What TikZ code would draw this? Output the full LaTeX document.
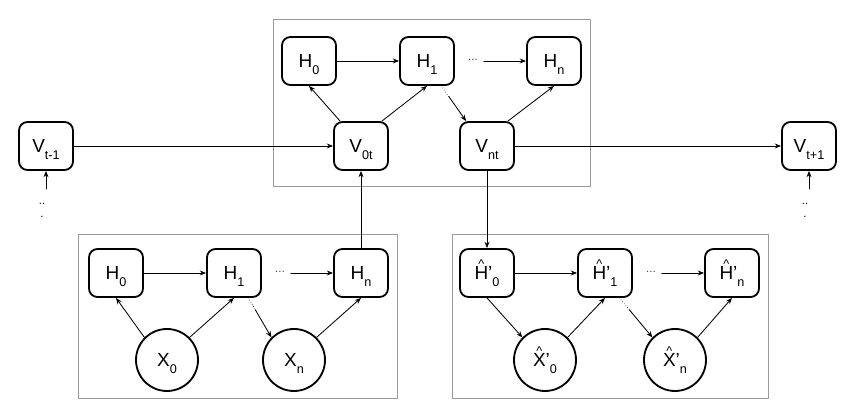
\documentclass[tikz,border=0pt]{standalone}
\usepackage{fontspec}
\setmainfont{Liberation Sans}
\usetikzlibrary{arrows.meta,calc}
\newcommand{\sbs}[1]{\smash{\raisebox{-5pt}{\fontsize{9}{9}\selectfont #1}}}
\newcommand{\hatc}[1]{\ooalign{#1\cr\hidewidth\smash{\raisebox{8pt}{\fontsize{9}{9}\selectfont\textasciicircum}}\hidewidth\cr}}
\tikzset{
  every picture/.style={font=\fontsize{13.5}{15}\selectfont, line join=round, line cap=round, >={Stealth[length=4.5pt,width=3.5pt]}},
  blk/.style={draw, line width=1.3pt, rounded corners=6pt, minimum width=1.35cm, minimum height=1.2cm, inner sep=0pt},
  obs/.style={draw, circle, line width=1.3pt, minimum size=1.55cm, inner sep=0pt},
  frm/.style={draw=gray!80, line width=0.7pt},
  lnk/.style={->, line width=0.6pt},
  skip/.style={line width=0.6pt, dash pattern=on 0pt off 1.8pt},
  dts/.style={font=\fontsize{7}{7}\selectfont, inner xsep=4pt, inner ysep=1pt},
  vdts/.style={font=\fontsize{8}{9}\selectfont, align=center, inner sep=0pt},
}

\begin{document}
\begin{tikzpicture}
\useasboundingbox (0,0) rectangle (21.375,10.475);
\draw[frm] (6.825,10.0) rectangle (14.75,5.825);
\draw[frm] (1.95,4.625) rectangle (9.925,0.525);
\draw[frm] (11.3,4.625) rectangle (19.2,0.525);

\node[blk] (th0) at (7.725,8.95) {H\sbs{0}};
\node[blk] (th1) at (10.675,8.95) {H\sbs{1}};
\node[blk] (thn) at (13.85,8.95) {H\sbs{n}};
\node[dts] (td) at ($(th1.east)+(0.45,0)$) {···};
\node[blk] (v0t) at (9.025,6.825) {V\sbs{0t}};
\node[blk] (vnt) at (12.175,6.825) {V\sbs{nt}};
\node[blk] (vtm) at (1.15,6.825) {V\sbs{t-1}};
\node[blk] (vtp) at (20.225,6.825) {V\sbs{t+1}};

\node[blk] (bh0) at (2.9,3.65) {H\sbs{0}};
\node[blk] (bh1) at (5.85,3.65) {H\sbs{1}};
\node[blk] (bhn) at (9.025,3.65) {H\sbs{n}};
\node[dts] (bd) at ($(bh1.east)+(0.45,0)$) {···};
\node[obs] (bx0) at (4.175,1.475) {X\sbs{0}};
\node[obs] (bxn) at (7.35,1.475) {X\sbs{n}};

\node[blk] (rh0) at (12.175,3.65) {\hatc{H}'\sbs{0}};
\node[blk] (rh1) at (15.125,3.65) {\hatc{H}'\sbs{1}};
\node[blk] (rhn) at (18.3,3.65) {\hatc{H}'\sbs{n}};
\node[dts] (rd) at ($(rh1.east)+(0.45,0)$) {···};
\node[obs] (rx0) at (13.625,1.475) {\hatc{X}'\sbs{0}};
\node[obs] (rxn) at (16.875,1.475) {\hatc{X}'\sbs{n}};

\node[vdts] (vtmd) at (1.05,5.22) {..\\.};
\node[vdts] (vtpd) at (20.125,5.22) {..\\.};
\coordinate (vtma) at (1.15,5.75);
\coordinate (vtpa) at (20.225,5.75);

\draw[lnk] (th0) -- (th1);
\draw[lnk] (td) -- (thn);
\draw[lnk] (v0t.130) -- (th0.south);
\draw[lnk] (v0t.50) -- (th1.south);
\draw[lnk] (vnt.50) -- (thn.south);
\coordinate (tm) at ($(th1.-60)!0.3!(vnt.130)$);
\draw[skip] (th1.-60) -- (tm);
\draw[lnk] (tm) -- (vnt.130);
\draw[lnk] (vtm) -- (v0t);
\draw[lnk] (vnt) -- (vtp);
\draw[lnk] (vtma) -- (vtm);
\draw[lnk] (vtpa) -- (vtp);
\draw[lnk] (bhn) -- (v0t);
\draw[lnk] (vnt) -- (rh0);

\draw[lnk] (bh0) -- (bh1);
\draw[lnk] (bd) -- (bhn);
\draw[lnk] (bx0.135) -- (bh0.south);
\draw[lnk] (bx0.45) -- (bh1.south);
\draw[lnk] (bxn.45) -- (bhn.south);
\coordinate (bm) at ($(bh1.-60)!0.3!(bxn.135)$);
\draw[skip] (bh1.-60) -- (bm);
\draw[lnk] (bm) -- (bxn.135);

\draw[lnk] (rh0) -- (rh1);
\draw[lnk] (rd) -- (rhn);
\draw[lnk] (rh0.south) -- (rx0.135);
\draw[lnk] (rx0.45) -- (rh1.south);
\draw[lnk] (rxn.45) -- (rhn.south);
\coordinate (rm) at ($(rh1.-60)!0.3!(rxn.135)$);
\draw[skip] (rh1.-60) -- (rm);
\draw[lnk] (rm) -- (rxn.135);
\end{tikzpicture}
\end{document}
